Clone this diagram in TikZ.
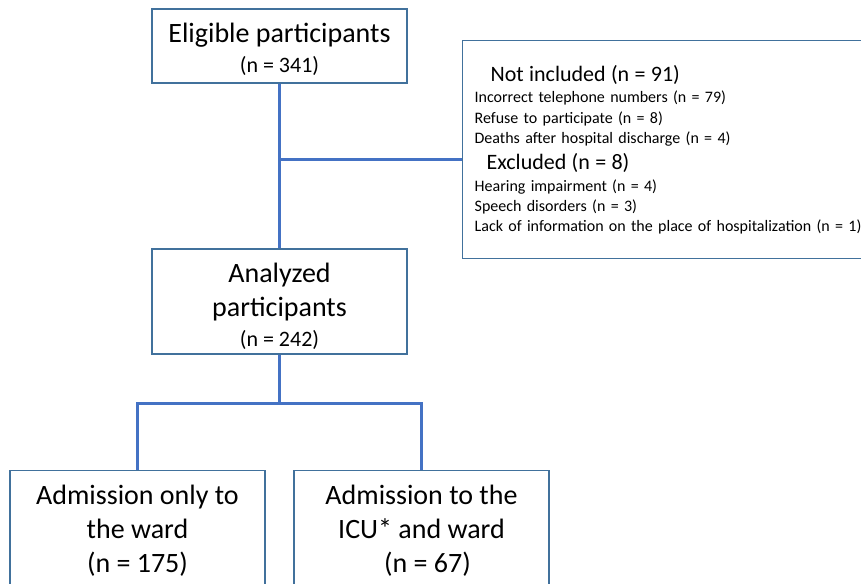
\documentclass[tikz,border=0pt]{standalone}
\usepackage{fontspec}
\setmainfont{Carlito}
\definecolor{boxblue}{HTML}{41719C}
\definecolor{lineblue}{HTML}{4472C4}

\begin{document}
\begin{tikzpicture}[x=1pt,y=-1pt,
    box/.style={draw=boxblue, line width=1.3pt, align=center, inner sep=0pt,
      minimum width=255pt, font=\fontsize{28}{34}\selectfont},
    link/.style={draw=lineblue, line width=3pt}]
    \useasboundingbox (0,0) rectangle (861,583);
    % Participantes elegibles
    \node[box, minimum height=74pt] (elig) at (279.5,46)
      {\rule{0pt}{26pt}Eligible participants\\[-4pt]{\fontsize{22}{26}\selectfont (n = 341)}};
    % No incluidos / excluidos
    \node[box, anchor=north west, minimum width=0pt, minimum height=218pt,
      text width=430pt, inner xsep=12pt, align=left,
      font=\fontsize{16}{20.4}\selectfont] (notinc) at (462,40)
      {\hspace*{16pt}{\fontsize{22}{24}\selectfont Not included (n = 91)}\\[1.5pt]
       Incorrect telephone numbers (n = 79)\\
       Refuse to participate (n = 8)\\
       Deaths after hospital discharge (n = 4)\\[5.5pt]
       \hspace*{12pt}{\fontsize{22}{24}\selectfont Excluded (n = 8)}\\[1pt]
       Hearing impairment (n = 4)\\
       Speech disorders (n = 3)\\
       Lack of information on the place of hospitalization (n = 1)};
    % Analizados
    \node[box, minimum height=105pt] (anal) at (279.5,301.5)
      {\rule{0pt}{30pt}Analyzed\\participants\\[-4pt]{\fontsize{22}{26}\selectfont (n = 242)}};
    % Grupos
    \node[box, anchor=north, minimum height=120pt] (ward) at (137.5,470)
      {Admission only to\\the ward\\(n = 175)};
    \node[box, anchor=north, minimum height=120pt] (icu) at (421.5,470)
      {Admission to the\\ICU* and ward\\\hspace*{12pt}(n = 67)};
    % Conectores
    \coordinate (side) at (279.5,159);
    \coordinate (split) at (279.5,403);
    \draw[link] (elig.south) -- (anal.north);
    \draw[link] (side) -- (notinc.west |- side);
    \draw[link] (anal.south) -- (split);
    \draw[link] (ward.north) |- (split) -| (icu.north);
\end{tikzpicture}
\end{document}
